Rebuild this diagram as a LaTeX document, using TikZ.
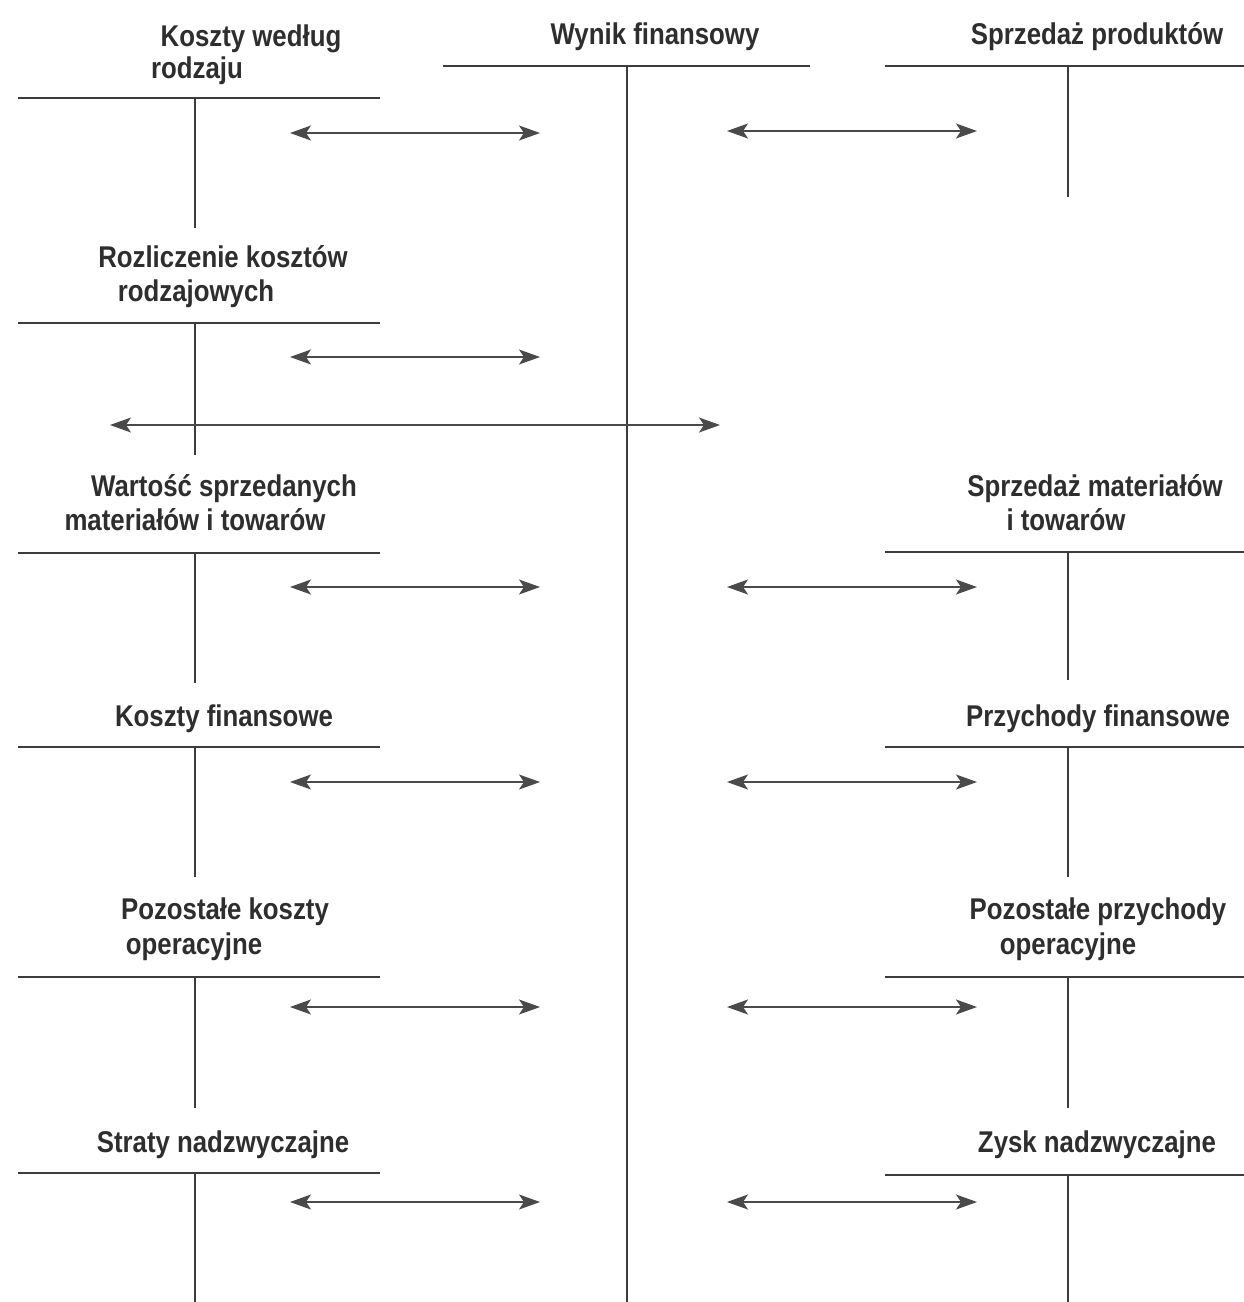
\documentclass[tikz,border=0pt]{standalone}
\usepackage{fontspec}
\setmainfont{Liberation Sans}
\newfontfamily\labfont{Liberation Sans}[FakeStretch=0.86]
\usetikzlibrary{arrows.meta}
\definecolor{ink}{HTML}{2E2E2E}
\definecolor{rulec}{HTML}{3C3C3C}
\definecolor{arrc}{HTML}{4A4A4A}
\begin{document}
\begin{tikzpicture}[x=1pt,y=-1pt,
  lbl/.style={font=\labfont\bfseries\fontsize{30}{34}\selectfont, text=ink, inner sep=0pt, anchor=base},
  acct/.style={draw=rulec, line width=1.8pt},
  link/.style={draw=arrc, line width=1.4pt,
    {Stealth[length=21pt,width=15pt,inset=5pt]}-{Stealth[length=21pt,width=15pt,inset=5pt]}}]
\useasboundingbox[fill=white] (0,0) rectangle (1244,1302);

% left T-accounts
\foreach \n/\y/\b in {1/98/228, 2/323/455, 3/553/683, 4/747/877, 5/977/1108, 6/1173/1302}{
  \coordinate (L\n w) at (18,\y);
  \coordinate (L\n e) at (380,\y);
  \coordinate (L\n t) at (195,\y);
  \coordinate (L\n b) at (195,\b);
  \draw[acct] (L\n w) -- (L\n e);
  \draw[acct] (L\n t) -- (L\n b);
}
% central account
\coordinate (Cw) at (443,66);
\coordinate (Ce) at (810,66);
\coordinate (Ct) at (627,66);
\coordinate (Cb) at (627,1302);
\draw[acct] (Cw) -- (Ce);
\draw[acct] (Ct) -- (Cb);
% right T-accounts
\foreach \n/\y/\b in {1/66/197, 3/552/680, 4/747/877, 5/977/1108, 6/1175/1302}{
  \coordinate (R\n w) at (885,\y);
  \coordinate (R\n e) at (1244,\y);
  \coordinate (R\n t) at (1068,\y);
  \coordinate (R\n b) at (1068,\b);
  \draw[acct] (R\n w) -- (R\n e);
  \draw[acct] (R\n t) -- (R\n b);
}

% arrows left
\foreach \n/\y in {1/133, 2/357, 3/587, 4/782, 5/1007, 6/1202}{
  \coordinate (AL\n a) at (290,\y);
  \coordinate (AL\n b) at (540,\y);
  \draw[link] (AL\n a) -- (AL\n b);
}
% arrows right
\foreach \n/\y in {1/131, 3/587, 4/782, 5/1007, 6/1202}{
  \coordinate (AR\n a) at (727,\y);
  \coordinate (AR\n b) at (977,\y);
  \draw[link] (AR\n a) -- (AR\n b);
}
% long arrow
\coordinate (LGa) at (110,425);
\coordinate (LGb) at (720,425);
\draw[link] (LGa) -- (LGb);

% labels
\node[lbl] (t1a) at (251,46) {Koszty według};
\node[lbl] (t1b) at (197,78) {rodzaju};
\node[lbl] (tc)  at (655,44) {Wynik finansowy};
\node[lbl] (r1)  at (1097,44) {Sprzedaż produktów};
\node[lbl] (t2a) at (223,267) {Rozliczenie kosztów};
\node[lbl] (t2b) at (196,301) {rodzajowych};
\node[lbl] (t3a) at (224,496) {Wartość sprzedanych};
\node[lbl] (t3b) at (195,530) {materiałów i towarów};
\node[lbl] (r3a) at (1095,496) {Sprzedaż materiałów};
\node[lbl] (r3b) at (1066,530) {i towarów};
\node[lbl] (t4)  at (224,726) {Koszty finansowe};
\node[lbl] (r4)  at (1098,726) {Przychody finansowe};
\node[lbl] (t5a) at (225,919) {Pozostałe koszty};
\node[lbl] (t5b) at (194,954) {operacyjne};
\node[lbl] (r5a) at (1098,919) {Pozostałe przychody};
\node[lbl] (r5b) at (1068,954) {operacyjne};
\node[lbl] (t6)  at (223,1152) {Straty nadzwyczajne};
\node[lbl] (r6)  at (1097,1152) {Zysk nadzwyczajne};
\end{tikzpicture}
\end{document}
